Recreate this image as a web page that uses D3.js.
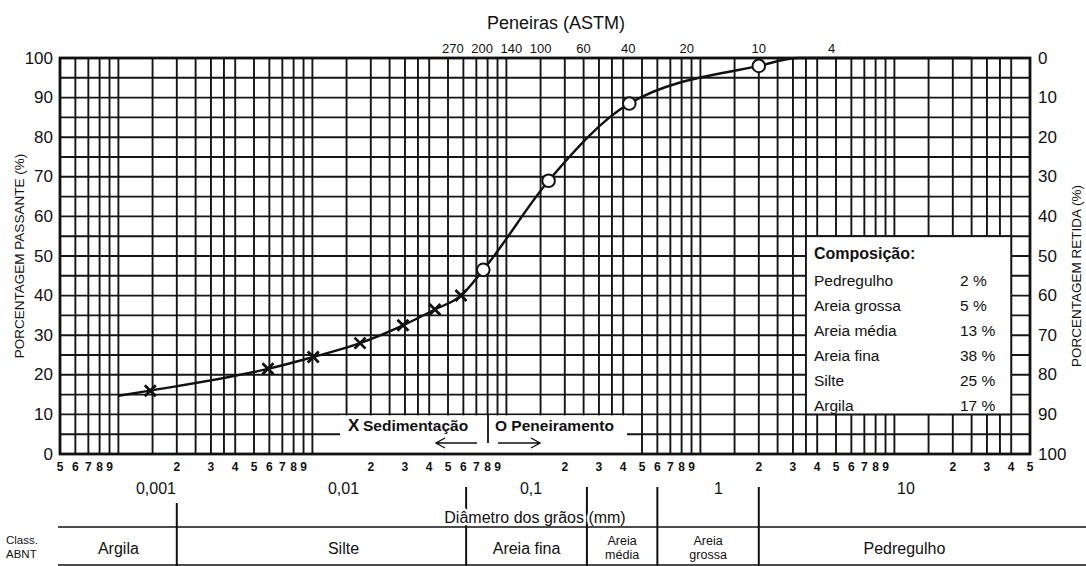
<!DOCTYPE html>
<html>
<head>
<meta charset="utf-8">
<script src="https://cdn.jsdelivr.net/npm/d3@7"></script>
<style>
  html, body { margin: 0; padding: 0; background: #fff; }
  svg { display: block; font-family: "Liberation Sans", Arial, Helvetica, sans-serif; }
</style>
</head>
<body>
<svg id="chart" width="1086" height="566"></svg>
<script>
// ---- Gradation test results ----
// Sedimentation (hydrometer) readings: grain diameter in mm, percent passing
const sedDiameter = [0.00146, 0.0059, 0.0101, 0.0176, 0.0293, 0.0428, 0.0583];
const sedPassing  = [16, 21.5, 24.5, 28, 32.5, 36.5, 40];
// Sieve readings
const sieveDiameter = [0.076, 0.165, 0.43, 2.0];
const sievePassing  = [46.5, 69, 88.5, 98];
// Where the fitted curve begins and where it runs into the 100 % line
const curveEndDiameter = [0.001, 3.2, 25];
const curveEndPassing  = [14.7, 100, 100];

// ASTM sieve numbers and their openings (mm)
const sieveNumbers  = ["270", "200", "140", "100", "60", "40", "20", "10", "4"];
const sieveOpenings = [0.053, 0.075, 0.106, 0.15, 0.25, 0.425, 0.85, 2.0, 4.75];

// Decade labels on the diameter axis
const decadeValues = [0.001, 0.01, 0.1, 1, 10];
const decadeLabels = ["0,001", "0,01", "0,1", "1", "10"];
// Grid lines drawn inside each decade
const gridSteps = [1, 1.5, 2, 2.5, 3, 3.5, 4, 5, 6, 7, 8, 9];

// Percent ticks
const percentTicks = [0, 10, 20, 30, 40, 50, 60, 70, 80, 90, 100];

// Soil composition
const compNames  = ["Pedregulho", "Areia grossa", "Areia média", "Areia fina", "Silte", "Argila"];
const compValues = [2, 5, 13, 38, 25, 17];

// ABNT classification bands (limits in mm)
const classLimits = [0.002, 0.062, 0.26, 0.6, 2.0];
const classNames  = [["Argila"], ["Silte"], ["Areia fina"], ["Areia", "média"], ["Areia", "grossa"], ["Pedregulho"]];

// ---- Layout ----
const W = 1086, H = 566;
const P = { left: 60, right: 1030, top: 58, bottom: 454 };
const ink = "#111";

const x = d3.scaleLog().domain([0.0005, 50]).range([P.left, P.right]);
const y = d3.scaleLinear().domain([0, 100]).range([P.bottom, P.top]);
// the decade captions sit on their own, slightly tighter, spacing
const xCaption = d3.scaleLog().domain([0.001, 10]).range([156, 906]);

const svg = d3.select("#chart");

function txt(sel, str, px, py, o = {}) {
  return sel.append("text")
    .attr("x", px).attr("y", py)
    .attr("font-size", o.size || 14)
    .attr("font-weight", o.weight || "normal")
    .attr("text-anchor", o.anchor || "start")
    .attr("dominant-baseline", "central")
    .attr("fill", ink)
    .text(str);
}

// ---- Grid ----
const grid = svg.append("g").attr("stroke", "#151515").attr("stroke-width", 1.9);
const decadeStarts = [0.0001, 0.001, 0.01, 0.1, 1, 10];
const gridValues = decadeStarts
  .flatMap(d => gridSteps.map(k => +(k * d).toPrecision(4)))
  .filter(v => v > 0.0005 && v < 50);

grid.selectAll("line.v").data(gridValues).join("line")
  .attr("x1", d => x(d)).attr("x2", d => x(d))
  .attr("y1", P.top).attr("y2", P.bottom);

const hValues = d3.range(5, 100, 5);
grid.selectAll("line.h").data(hValues).join("line")
  .attr("x1", P.left).attr("x2", P.right)
  .attr("y1", d => y(d)).attr("y2", d => y(d));

// ---- Legend panel (bottom, over the grid) ----
const legX0 = 340, legX1 = 627;
svg.append("rect")
  .attr("x", legX0).attr("y", y(10) + 1)
  .attr("width", legX1 - legX0).attr("height", y(0) - y(10) - 1)
  .attr("fill", "#fff");

// ---- Composition panel ----
const compX0 = x(3.5), compX1 = x(40);
const compY0 = y(55), compY1 = y(10);
svg.append("rect")
  .attr("x", compX0).attr("y", compY0)
  .attr("width", compX1 - compX0).attr("height", compY1 - compY0)
  .attr("fill", "#fff").attr("stroke", "#151515").attr("stroke-width", 1.9);

// ---- Frame ----
svg.append("rect")
  .attr("x", P.left).attr("y", P.top)
  .attr("width", P.right - P.left).attr("height", P.bottom - P.top)
  .attr("fill", "none").attr("stroke", ink).attr("stroke-width", 2.8);

// ---- Gradation curve ----
const curvePts = [
  ...curveEndDiameter.map((d, i) => [d, curveEndPassing[i]]),
  ...sedDiameter.map((d, i) => [d, sedPassing[i]]),
  ...sieveDiameter.map((d, i) => [d, sievePassing[i]])
].sort((a, b) => a[0] - b[0]);

svg.append("path")
  .datum(curvePts)
  .attr("fill", "none").attr("stroke", ink).attr("stroke-width", 2.4)
  .attr("d", d3.line().x(d => x(d[0])).y(d => y(d[1])).curve(d3.curveMonotoneX));

// Sedimentation markers (X)
svg.append("g").selectAll("path").data(sedDiameter).join("path")
  .attr("transform", (d, i) => `translate(${x(d)},${y(sedPassing[i])})`)
  .attr("d", "M-5.5,-5.5L5.5,5.5M-5.5,5.5L5.5,-5.5")
  .attr("stroke", ink).attr("stroke-width", 2.8).attr("fill", "none");

// Sieve markers (O)
svg.append("g").selectAll("circle").data(sieveDiameter).join("circle")
  .attr("cx", d => x(d)).attr("cy", (d, i) => y(sievePassing[i]))
  .attr("r", 6.3)
  .attr("fill", "#fff").attr("stroke", ink).attr("stroke-width", 2);

// ---- Left and right percent axes ----
const axL = svg.append("g");
percentTicks.forEach(t => txt(axL, String(t), 53, y(t), { size: 17, anchor: "end" }));
const axR = svg.append("g");
percentTicks.forEach(t => txt(axR, String(100 - t), 1038, y(t), { size: 17 }));

svg.append("text")
  .attr("transform", `translate(19,${(P.top + P.bottom) / 2}) rotate(-90)`)
  .attr("text-anchor", "middle").attr("dominant-baseline", "central")
  .attr("font-size", 13.5).attr("fill", ink)
  .text("PORCENTAGEM  PASSANTE (%)");
svg.append("text")
  .attr("transform", `translate(1076,${(P.top + P.bottom) / 2 + 20}) rotate(-90)`)
  .attr("text-anchor", "middle").attr("dominant-baseline", "central")
  .attr("font-size", 13.5).attr("fill", ink)
  .text("PORCENTAGEM  RETIDA (%)");

// ---- Sieve axis (top) ----
txt(svg, "Peneiras (ASTM)", 556, 23, { size: 18, anchor: "middle" });
sieveNumbers.forEach((s, i) => txt(svg, s, x(sieveOpenings[i]), 48, { size: 13, anchor: "middle" }));

// ---- Diameter axis (bottom) ----
const leadDigit = v => Math.round(v / Math.pow(10, Math.floor(Math.log10(v) + 1e-9)));
const digitTicks = x.ticks().filter(v => leadDigit(v) !== 1);
digitTicks.forEach(v => {
  txt(svg, String(leadDigit(v)), x(v), 467, { size: 12, weight: "bold", anchor: "middle" });
});
decadeValues.forEach((v, i) => {
  txt(svg, decadeLabels[i], xCaption(v), 488, { size: 16, anchor: "middle" })
    .attr("stroke", "#fff").attr("stroke-width", 5).attr("paint-order", "stroke");
});

// ---- Legend content ----
const leg = svg.append("g");
txt(leg, "X", 348, 425, { size: 17, weight: "bold" });
txt(leg, "Sedimentação", 363, 425, { size: 15.5, weight: "bold" });
txt(leg, "O Peneiramento", 495, 425, { size: 15.5, weight: "bold" });
leg.append("line").attr("x1", 488).attr("x2", 488).attr("y1", y(10)).attr("y2", 443)
  .attr("stroke", ink).attr("stroke-width", 1.8);
// direction arrows
leg.append("path").attr("d", "M477,443H436M445,438L436,443L445,448")
  .attr("fill", "none").attr("stroke", ink).attr("stroke-width", 1.4);
leg.append("path").attr("d", "M498,443H540M531,438L540,443L531,448")
  .attr("fill", "none").attr("stroke", ink).attr("stroke-width", 1.4);

// ---- Composition content ----
const comp = svg.append("g");
txt(comp, "Composição:", compX0 + 8, compY0 + 17, { size: 16, weight: "bold" });
compNames.forEach((n, i) => {
  const ry = compY0 + 44 + i * 25;
  txt(comp, n, compX0 + 8, ry, { size: 15.5 });
  txt(comp, `${compValues[i]} %`, 960, ry, { size: 15.5 });
});

// ---- Classification table ----
const tbl = svg.append("g");
classLimits.forEach((v, i) => {
  tbl.append("line")
    .attr("x1", x(v)).attr("x2", x(v))
    .attr("y1", i === 0 ? 503 : 487).attr("y2", H)
    .attr("stroke", ink).attr("stroke-width", 2);
});
txt(tbl, "Diâmetro dos grãos (mm)", 535, 517, { size: 16, anchor: "middle" })
  .attr("stroke", "#fff").attr("stroke-width", 5).attr("paint-order", "stroke");
tbl.append("line").attr("x1", 58).attr("x2", W).attr("y1", 527).attr("y2", 527)
  .attr("stroke", ink).attr("stroke-width", 1.6);
tbl.append("line").attr("x1", 58).attr("x2", W).attr("y1", 565).attr("y2", 565)
  .attr("stroke", ink).attr("stroke-width", 1.6);
txt(tbl, "Class.", 6, 540, { size: 11.5 });
txt(tbl, "ABNT", 6, 554, { size: 11.5 });

const bandEdges = [P.left, ...classLimits.map(v => x(v)), 1050];
classNames.forEach((lines, i) => {
  // the silt caption is written under the 0,01 mark rather than mid-band
  const cx = lines[0] === "Silte" ? xCaption(0.01) : (bandEdges[i] + bandEdges[i + 1]) / 2;
  if (lines.length === 1) {
    txt(tbl, lines[0], cx, 548, { size: 16, anchor: "middle" });
  } else {
    txt(tbl, lines[0], cx, 541, { size: 12.5, anchor: "middle" });
    txt(tbl, lines[1], cx, 555, { size: 12.5, anchor: "middle" });
  }
});
</script>
</body>
</html>
